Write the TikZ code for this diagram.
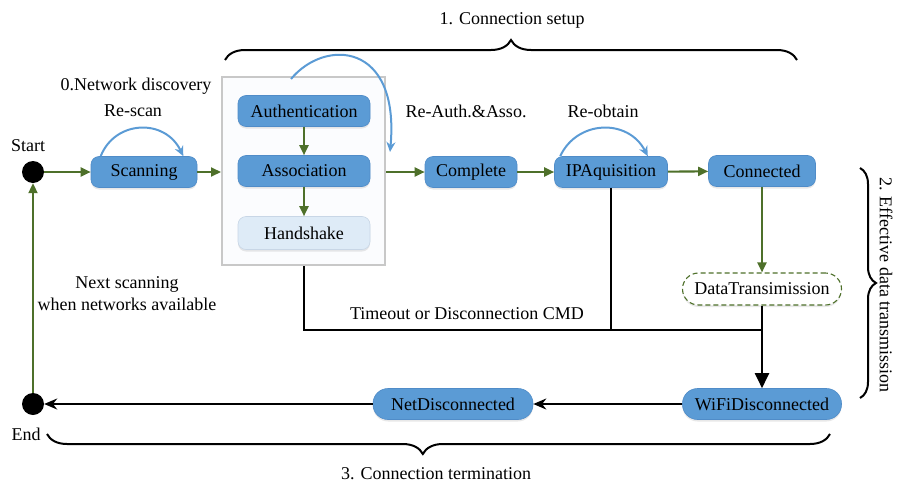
\documentclass[tikz,border=0pt]{standalone}
\usepackage{fontspec}
\setmainfont{Liberation Serif}
\usetikzlibrary{arrows.meta,decorations.pathreplacing,shadows,calc}
\definecolor{nblue}{RGB}{91,155,213}
\definecolor{nborder}{RGB}{80,140,200}
\definecolor{hfill}{RGB}{222,235,247}
\definecolor{hborder}{RGB}{200,214,230}
\definecolor{ggreen}{RGB}{78,112,42}
\definecolor{boxgray}{RGB}{200,200,200}
\definecolor{boxfill}{RGB}{251,252,254}
\begin{document}
\begin{tikzpicture}[x=1pt,y=-1pt,
  every node/.style={font=\fontsize{18}{22}\selectfont},
  state/.style={rectangle, rounded corners=8pt, fill=nblue, draw=nborder, line width=0.6pt,
    inner sep=0pt, minimum height=31pt,
    drop shadow={opacity=0.18, shadow xshift=0pt, shadow yshift=-2pt}},
  pill/.style={state, rounded corners=15pt},
  dot/.style={circle, fill=black, inner sep=0pt, minimum size=22pt},
  garrow/.style={draw=ggreen, line width=2.1pt, -{Triangle[length=10pt,width=9pt]}},
  barrow/.style={draw=black, line width=2pt, -{Stealth[length=13pt,width=11pt]}},
  bline/.style={draw=black, line width=2pt},
  loopar/.style={draw=nblue, line width=2pt, -{Stealth[length=10pt,width=9pt]}},
  bracestyle/.style={draw=black, line width=2pt, decorate},
  lbl/.style={inner sep=0pt}
]
\useasboundingbox (0,0) rectangle (897,482);

% container box
\node[draw=boxgray, fill=boxfill, line width=2pt, minimum width=163pt, minimum height=188pt, inner sep=0pt] (box) at (303.5,171) {};

% states
\node[dot] (start) at (33,172) {};
\node[dot] (end) at (33,404) {};
\node[state, minimum width=106pt] (scan) at (144,172) {Scanning};
\node[state, minimum width=132pt] (auth) at (304,111) {Authentication};
\node[state, minimum width=132pt] (asso) at (304,171) {Association};
\node[state, minimum width=132pt, minimum height=33pt, fill=hfill, draw=hborder] (hand) at (304,233) {Handshake};
\node[state, minimum width=92pt] (comp) at (471,172) {Complete};
\node[state, minimum width=113pt] (ipa) at (611,172) {IPAquisition};
\node[state, minimum width=107pt] (conn) at (762,171) {Connected};
\node[pill, minimum width=159pt, minimum height=32pt, fill=white, draw=ggreen, dashed, dash pattern=on 5pt off 3pt, line width=1.1pt, rounded corners=16pt] (data) at (762,289) {DataTransimission};
\node[pill, minimum width=159pt] (wifi) at (762,404) {WiFiDisconnected};
\node[pill, minimum width=160pt] (net) at (453,404) {NetDisconnected};

% labels
\node[lbl] (lstart) at (28,146) {Start};
\node[lbl] (lend) at (26,434) {End};
\node[lbl] (lnd) at (136,86) {0.Network discovery};
\node[lbl] (lrescan) at (133,111) {Re-scan};
\node[lbl] (lreauth) at (466,111) {Re-Auth.\&Asso.};
\node[lbl] (lreob) at (603,111) {Re-obtain};
\node[lbl] (l1) at (512,20) {1. Connection setup};
\node[lbl] (l3) at (436,474) {3. Connection termination};
\node[lbl, rotate=-90] (l2) at (886,285) {2. Effective data transmission};
\node[lbl, align=center] (lnext) at (127,294) {Next scanning\\when networks available};
\node[lbl] (ltime) at (467,314) {Timeout or Disconnection CMD};

% green flow
\draw[garrow] (start) -- (scan);
\draw[garrow] (scan) -- (box.west |- scan);
\draw[garrow] (auth) -- (asso);
\draw[garrow] (asso) -- (hand);
\draw[garrow] (box.east |- comp) -- (comp);
\draw[garrow] (comp) -- (ipa);
\draw[garrow] (ipa) -- (conn);
\draw[garrow] (conn) -- (data);
\draw[garrow] (end) -- (start);

% black lines
\coordinate (join) at (762,330);
\draw[bline] (box.south) |- (join);
\draw[bline] (ipa.south) -- (ipa.south |- join);
\draw[draw=black, line width=2pt, -{Triangle[length=15pt,width=14pt]}] (data) -- (wifi);
\draw[barrow] (wifi) -- (net);
\draw[barrow] (net) -- (end);

% loops
\draw[loopar] ([xshift=10pt]scan.north west) .. controls (115,120) and (165,118) .. ([xshift=-14pt]scan.north east);
\draw[loopar] ([xshift=6pt]ipa.north west) .. controls (577,120) and (628,118) .. ([xshift=-20pt]ipa.north east);
\draw[loopar] (291,79) .. controls (325,38) and (400,42) .. (390,152);

% braces
\draw[bracestyle, decoration={brace, amplitude=20pt}] (225,60) -- (797,60);
\draw[bracestyle, decoration={brace, amplitude=16pt}] (860,168) -- (860,398);
\draw[bracestyle, decoration={brace, amplitude=20pt, aspect=0.52}] (830,434) -- (47,434);
\end{tikzpicture}
\end{document}
